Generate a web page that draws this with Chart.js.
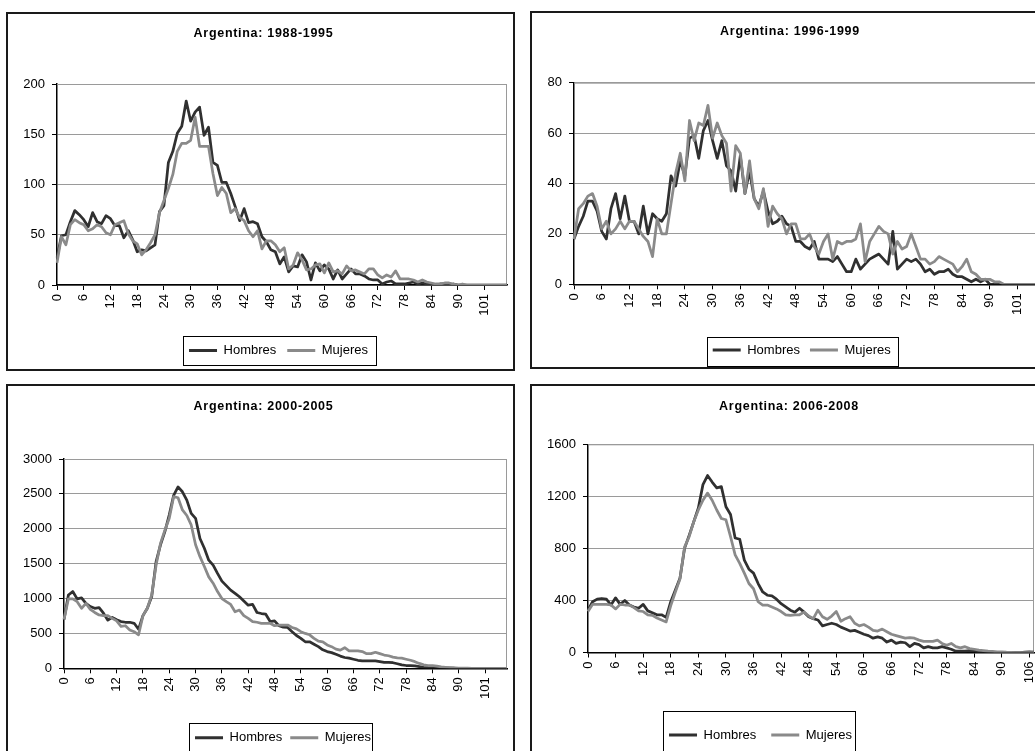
<!DOCTYPE html>
<html lang="es">
<head>
<meta charset="utf-8">
<title>Argentina: 1988-2008</title>
<script src="https://cdn.jsdelivr.net/npm/chart.js@4.4.1/dist/chart.umd.min.js"></script>
<style>
    html, body { margin: 0; padding: 0; background: #fff; overflow: hidden; }
    body { width: 1035px; height: 751px; position: relative; }
    .panel { position: absolute; border: 2px solid #1a1a1a; background: #fff; }
    .panel canvas { display: block; }
    #p1 { left: 6px; top: 12px; width: 505px; height: 355px; }
    #p2 { left: 530px; top: 11px; width: 505px; height: 354px; }
    #p3 { left: 6px; top: 384px; width: 505px; height: 396px; }
    #p4 { left: 530px; top: 384px; width: 505px; height: 396px; }
</style>
</head>
<body>
<div class="panel" id="p1"><canvas id="g1" width="505" height="355"></canvas></div>
<div class="panel" id="p2"><canvas id="g2" width="505" height="354"></canvas></div>
<div class="panel" id="p3"><canvas id="g3" width="505" height="396"></canvas></div>
<div class="panel" id="p4"><canvas id="g4" width="505" height="396"></canvas></div>

<script>
// Edades (categorías del eje x)
const edades = [0,1,2,3,4,5,6,7,8,9,10,11,12,13,14,15,16,17,18,19,20,21,22,23,24,25,26,27,28,29,
    30,31,32,33,34,35,36,37,38,39,40,41,42,43,44,45,46,47,48,49,50,51,52,53,54,55,56,57,58,59,
    60,61,62,63,64,65,66,67,68,69,70,71,72,73,74,75,76,77,78,79,80,81,82,83,84,85,86,87,88,89,
    90,91,92,93,94,95,101,102,103,104,105,106];
const edades9699 = edades.slice(0, 101);
const edades0608 = edades.slice(0, 96).concat([106, 107]);

// Argentina 1988-1995
const hombres8895 = [27,49,50,63,74,70,65,58,72,63, 61,69,66,59,59,47,54,45,33,35,
    34,37,40,73,79,122,133,151,158,183, 163,172,177,149,157,122,119,102,102,91,
    78,64,76,62,63,61,48,43,35,33, 21,28,13,19,18,30,23,5,22,14,
    20,16,6,15,6,11,16,11,11,9, 6,5,5,1,3,4,1,1,1,2,
    3,1,2,1,1,0,1,1,0,1, 0,0,0,0,0,0,0,0,0,0, 0,0];
const mujeres8895 = [22,48,40,60,65,62,60,54,56,60, 58,52,50,60,62,64,51,44,41,30,
    35,42,50,72,84,96,110,133,141,141, 144,167,138,138,138,111,89,97,91,72,
    76,67,64,54,48,54,36,44,44,40, 33,37,16,20,32,25,15,16,20,21,
    12,22,13,14,11,19,14,15,13,11, 16,16,10,7,10,8,14,6,6,6,
    5,3,5,3,2,1,1,2,2,1, 0,1,0,0,0,0,0,0,0,0, 0,0];

// Argentina 1996-1999
const hombres9699 = [18,23,27,33,33,29,21,18,30,36, 26,35,25,25,20,31,20,28,26,25,
    28,43,39,49,43,58,59,50,61,65, 57,50,57,47,45,37,51,36,45,34,
    31,37,29,24,25,27,24,23,17,17, 15,14,17,10,10,10,9,11,8,5,
    5,10,6,8,10,11,12,10,8,21, 6,8,10,9,10,8,5,6,4,5,
    5,6,4,3,3,2,1,2,1,2, 0,0,0,0,0,0,0,0,0,0, 0];
const mujeres9699 = [18,30,32,35,36,31,22,25,20,22, 25,22,25,25,22,19,17,11,26,20,
    20,32,44,52,41,65,57,64,63,71, 58,64,59,56,37,55,52,36,49,34,
    30,38,23,31,28,26,20,24,24,18, 18,20,15,12,17,20,10,17,16,17,
    17,18,24,9,17,20,23,21,20,12, 17,14,15,20,15,10,10,8,9,11,
    10,9,8,5,7,10,5,4,2,2, 2,1,1,0,0,0,0,0,0,0, 0];

// Argentina 2000-2005
const hombres0005 = [700,1050,1100,995,1010,930,885,860,870,790, 690,730,695,670,660,660,645,560,755,860,
    1030,1530,1770,1960,2200,2480,2600,2530,2410,2220, 2150,1860,1720,1550,1480,1360,1250,1185,1120,1075,
    1025,965,905,915,800,785,775,670,680,610, 590,585,525,470,430,380,380,345,310,265,
    240,225,200,175,155,145,130,115,105,105, 105,105,95,85,85,80,65,48,40,40,
    35,25,15,10,8,5,3,2,1,1, 0,0,0,0,0,0,0,0,0,0, 0,0];
const mujeres0005 = [700,995,995,955,860,930,845,800,765,755, 755,715,680,600,610,550,525,480,755,860,
    1050,1480,1790,1980,2150,2460,2445,2270,2190,2055, 1770,1600,1460,1310,1220,1100,1000,955,915,810,
    835,755,715,670,660,645,645,645,610,620, 620,620,585,565,525,500,480,430,390,380,
    335,310,275,260,295,250,250,250,240,210, 210,230,210,190,180,160,150,145,130,115,
    95,70,50,40,40,30,20,15,10,5, 3,2,1,0,0,0,0,0,0,0, 0,0];

// Argentina 2006-2008
const hombres0608 = [325,390,410,415,410,365,420,370,400,365, 350,340,370,320,305,290,290,270,390,480,
    570,800,900,1005,1110,1290,1360,1310,1265,1275, 1120,1060,880,870,710,640,610,530,465,440,
    435,410,375,350,325,310,340,310,275,260, 250,205,215,225,215,195,180,165,170,155,
    140,130,110,120,110,80,95,70,80,75, 45,70,60,35,45,35,35,45,35,25,
    10,10,10,15,10,5,3,2,1,0, 0,0,0,0,0,3,5,3];
const mujeres0608 = [315,370,370,370,370,365,335,370,365,365, 345,320,315,290,285,265,250,235,360,465,
    565,810,890,1005,1095,1170,1225,1170,1095,1030, 1020,890,750,685,610,530,490,390,365,365,
    350,335,315,290,285,290,290,310,280,260, 325,275,255,280,315,240,260,275,225,205,
    215,195,170,165,180,160,140,130,120,110, 115,110,95,85,85,85,95,70,55,70,
    45,35,45,30,25,18,15,10,8,5, 4,2,1,0,0,0,0,0];

const colorHombres = "#303030";
const colorMujeres = "#8a8a8a";

Chart.defaults.font.family = '"Liberation Sans", Arial, sans-serif';
Chart.defaults.font.size = 13;
Chart.defaults.color = "#000";

// Plugin: título espaciado, borde gris del área, caja de la leyenda
const marco = {
    id: "marco",
    afterInit(chart) {
        const titulo = chart.titleBlock;
        if (!titulo) return;
        const dibujarTitulo = titulo.draw.bind(titulo);
        titulo.draw = function () {
            const ctx = chart.ctx;
            ctx.save();
            ctx.letterSpacing = "0.7px";
            ctx.translate(chart.options.plugins.marco.tituloDx, 0);
            dibujarTitulo();
            ctx.restore();
        };
    },
    afterLayout(chart, args, opts) {
        // desplazar la leyenda horizontalmente
        chart.legend.left += opts.leyendaDx;
        chart.legend.right += opts.leyendaDx;
    },
    beforeDatasetsDraw(chart) {
        const { ctx, chartArea: a } = chart;
        ctx.save();
        ctx.strokeStyle = "#9a9a9a";
        ctx.lineWidth = 1;
        ctx.beginPath();
        ctx.moveTo(a.left, a.top + 0.5);
        ctx.lineTo(a.right - 0.5, a.top + 0.5);
        ctx.lineTo(a.right - 0.5, a.bottom);
        ctx.stroke();
        ctx.restore();
    },
    afterDraw(chart, args, opts) {
        const cajas = chart.legend.legendHitBoxes;
        if (!cajas || !cajas.length) return;
        const izq = Math.min(...cajas.map(c => c.left)) - 6;
        const der = Math.max(...cajas.map(c => c.left + c.width)) + opts.cajaDer;
        const centro = cajas[0].top + cajas[0].height / 2;
        const ctx = chart.ctx;
        ctx.save();
        ctx.strokeStyle = "#000";
        ctx.lineWidth = 1;
        ctx.strokeRect(Math.round(izq) + 0.5, Math.round(centro - opts.cajaArriba) + 0.5,
            Math.round(der - izq), Math.round(opts.cajaArriba + opts.cajaAbajo));
        ctx.restore();
    }
};

// Crear un gráfico de líneas Hombres / Mujeres
function crearGrafico(id, titulo, etiquetas, hombres, mujeres, cfg) {
    const ctx = document.getElementById(id).getContext("2d");
    return new Chart(ctx, {
        type: "line",
        data: {
            labels: etiquetas,
            datasets: [
                {
                    label: "Hombres",
                    data: hombres,
                    borderColor: colorHombres,
                    backgroundColor: colorHombres,
                    borderWidth: 2.75,
                    pointRadius: 0,
                    borderJoinStyle: "round",
                    order: 1
                },
                {
                    label: "Mujeres",
                    data: mujeres,
                    borderColor: colorMujeres,
                    backgroundColor: colorMujeres,
                    borderWidth: 2.75,
                    pointRadius: 0,
                    borderJoinStyle: "round",
                    order: 0
                }
            ]
        },
        options: {
            responsive: false,
            animation: false,
            devicePixelRatio: 1,
            events: [],
            layout: {
                padding: { left: 0, right: cfg.padDer, top: 0, bottom: cfg.padAbajo }
            },
            scales: {
                x: {
                    offset: false,
                    grid: { drawOnChartArea: false, drawTicks: true, tickLength: 5, tickColor: "#000" },
                    border: { color: "#000", width: 1.5 },
                    ticks: {
                        autoSkip: false,
                        minRotation: 90,
                        maxRotation: 90,
                        padding: 4,
                        callback: function (value, index) {
                            return index % 6 === 0 ? this.getLabelForValue(value) : null;
                        }
                    },
                    afterFit: (scale) => {
                        scale.height = cfg.altoEjeX;
                        scale.paddingLeft = 0;
                        scale.paddingRight = 0;
                    }
                },
                y: {
                    min: 0,
                    max: cfg.yMax,
                    ticks: { stepSize: cfg.yPaso, padding: 7, format: { useGrouping: false } },
                    grid: { color: "#9a9a9a", tickColor: "#000", tickLength: 5 },
                    border: { color: "#000", width: 1.5 },
                    afterFit: (scale) => {
                        scale.width = cfg.anchoEjeY;
                    }
                }
            },
            plugins: {
                title: {
                    display: true,
                    text: titulo,
                    color: "#000",
                    font: { size: 12.5, weight: "bold" },
                    padding: { top: cfg.tituloArriba, bottom: cfg.tituloAbajo }
                },
                legend: {
                    position: "bottom",
                    fullSize: false,
                    labels: {
                        boxWidth: 28,
                        boxHeight: 3,
                        padding: cfg.leyendaPad,
                        color: "#000",
                        font: { size: 13 },
                        sort: (a, b) => a.datasetIndex - b.datasetIndex,
                        generateLabels: (chart) =>
                            Chart.defaults.plugins.legend.labels.generateLabels(chart)
                                .map(item => Object.assign(item, { lineWidth: 0 }))
                    }
                },
                tooltip: { enabled: false },
                marco: {
                    tituloDx: 6,
                    leyendaDx: cfg.leyendaDx,
                    cajaArriba: cfg.cajaArriba,
                    cajaAbajo: cfg.cajaAbajo,
                    cajaDer: cfg.cajaDer
                }
            }
        },
        plugins: [marco]
    });
}

crearGrafico("g1", "Argentina: 1988-1995", edades, hombres8895, mujeres8895, {
    yMax: 200, yPaso: 50, anchoEjeY: 49, padDer: 6, padAbajo: 2, altoEjeX: 48,
    tituloArriba: 12.5, tituloAbajo: 42.5, leyendaPad: 11, leyendaDx: -3.5,
    cajaArriba: 14.5, cajaAbajo: 14.5, cajaDer: 8
});

crearGrafico("g2", "Argentina: 1996-1999", edades9699, hombres9699, mujeres9699, {
    yMax: 80, yPaso: 20, anchoEjeY: 42, padDer: 1, padAbajo: 0.5, altoEjeX: 49.2,
    tituloArriba: 11.5, tituloAbajo: 43.2, leyendaPad: 10, leyendaDx: -3.3,
    cajaArriba: 13.5, cajaAbajo: 15, cajaDer: 7
});

crearGrafico("g3", "Argentina: 2000-2005", edades, hombres0005, mujeres0005, {
    yMax: 3000, yPaso: 500, anchoEjeY: 56, padDer: 6, padAbajo: 27.8, altoEjeX: 54.9,
    tituloArriba: 13.5, tituloAbajo: 44.5, leyendaPad: 8, leyendaDx: -2.5,
    cajaArriba: 15, cajaAbajo: 15, cajaDer: 1
});

crearGrafico("g4", "Argentina: 2006-2008", edades0608, hombres0608, mujeres0608, {
    yMax: 1600, yPaso: 400, anchoEjeY: 56, padDer: 3, padAbajo: 30.5, altoEjeX: 61,
    tituloArriba: 13.5, tituloAbajo: 29.8, leyendaPad: 15, leyendaDx: -50.5,
    cajaArriba: 24.3, cajaAbajo: 24, cajaDer: 3
});
</script>
</body>
</html>
